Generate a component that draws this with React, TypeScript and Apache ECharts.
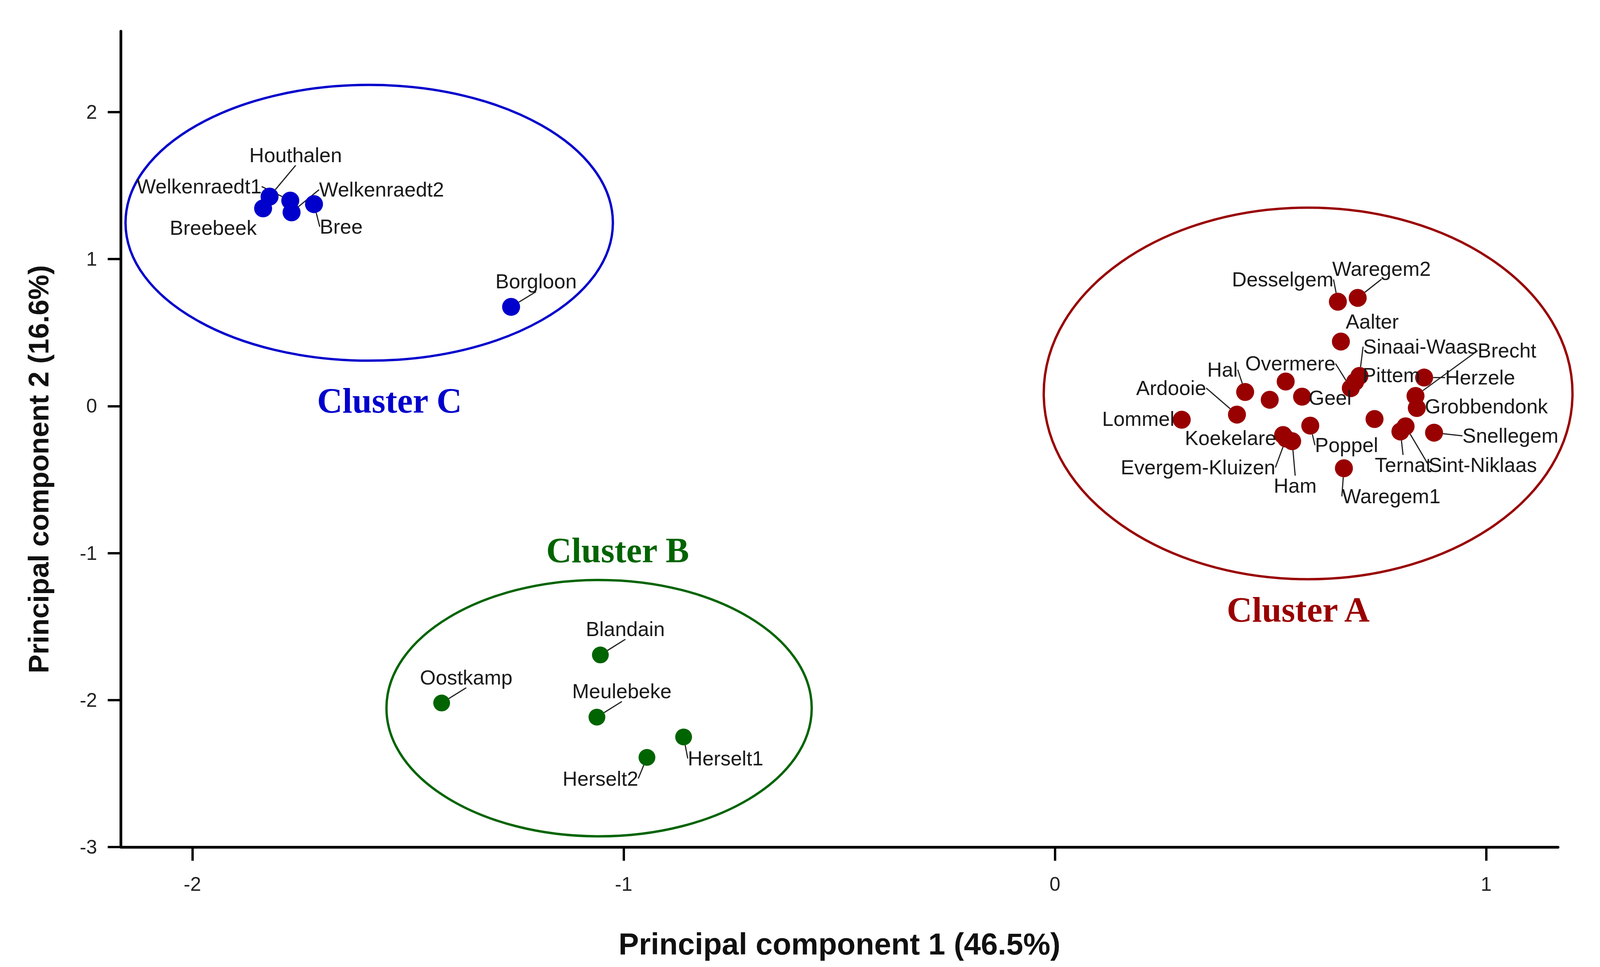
import React, { useEffect, useRef } from "react";
import * as echarts from "echarts";

// ---------- data ----------
const xTicks = [-2, -1, 0, 1];
const yTicks = [-3, -2, -1, 0, 1, 2];

const clusterANames = [
  "Desselgem", "Waregem2", "Aalter", "Sinaai-Waas", "Pittem", "Overmere",
  "Herzele", "Brecht", "Grobbendonk", "Hal", "Ardooie", "Lommel", "Geel",
  "Poppel", "Koekelare", "Evergem-Kluizen", "Ham", "Waregem1", "Ternat",
  "Sint-Niklaas", "Snellegem", "", "", "",
];
const clusterAX = [
  0.656, 0.702, 0.663, 0.706, 0.696, 0.686,
  0.856, 0.836, 0.839, 0.441, 0.422, 0.294, 0.573,
  0.592, 0.529, 0.536, 0.55, 0.67, 0.801,
  0.813, 0.879, 0.498, 0.535, 0.741,
];
const clusterAY = [
  0.71, 0.736, 0.439, 0.205, 0.165, 0.122,
  0.194, 0.069, -0.013, 0.096, -0.058, -0.093, 0.064,
  -0.133, -0.197, -0.221, -0.239, -0.423, -0.173,
  -0.138, -0.181, 0.043, 0.167, -0.088,
];

const clusterBNames = ["Blandain", "Oostkamp", "Meulebeke", "Herselt1", "Herselt2"];
const clusterBX = [-1.054, -1.422, -1.062, -0.861, -0.946];
const clusterBY = [-1.693, -2.02, -2.116, -2.251, -2.39];

const clusterCNames = ["Houthalen", "Welkenraedt1", "Breebeek", "Welkenraedt2", "Bree", "Borgloon"];
const clusterCX = [-1.821, -1.773, -1.836, -1.77, -1.718, -1.261];
const clusterCY = [1.425, 1.398, 1.345, 1.318, 1.374, 0.675];

// cluster ellipses (data units): centre, radii, and where the cluster title sits
const clusterTitles = ["Cluster A", "Cluster B", "Cluster C"];
const ellipseCX = [0.587, -1.057, -1.59];
const ellipseCY = [0.086, -2.055, 1.247];
const ellipseRX = [0.613, 0.493, 0.565];
const ellipseRY = [1.264, 0.872, 0.938];
const titleX = [0.564, -1.014, -1.543];
const titleY = [-1.385, -0.981, 0.037];

// ---------- layout (label placement, px from the point centre, at 4233x2475) ----------
const labelOffsets: Record<string, [number, number]> = {
  Desselgem: [-146, -57],
  Waregem2: [63, -74],
  Aalter: [83, -51],
  "Sinaai-Waas": [161, -75],
  Pittem: [96, -17],
  Overmere: [-160, -63],
  Herzele: [148, 0],
  Brecht: [242, -116],
  Grobbendonk: [184, -4],
  Hal: [-60, -57],
  Ardooie: [-174, -68],
  Lommel: [-115, -2],
  Geel: [74, 3],
  Poppel: [96, 50],
  Koekelare: [-139, 8],
  "Evergem-Kluizen": [-233, 74],
  Ham: [8, 114],
  Waregem1: [125, 72],
  Ternat: [7, 86],
  "Sint-Niklaas": [204, 99],
  Snellegem: [202, 8],
  Houthalen: [69, -106],
  Welkenraedt1: [-241, -36],
  Breebeek: [-132, 50],
  Welkenraedt2: [238, -58],
  Bree: [72, 58],
  Borgloon: [66, -65],
  Blandain: [66, -66],
  Oostkamp: [65, -65],
  Meulebeke: [66, -66],
  Herselt1: [111, 55],
  Herselt2: [-123, 54],
};
const leaderNames = new Set([
  "Desselgem", "Waregem2", "Sinaai-Waas", "Overmere", "Herzele", "Brecht",
  "Hal", "Ardooie", "Lommel", "Poppel", "Evergem-Kluizen", "Ham", "Waregem1",
  "Ternat", "Sint-Niklaas", "Snellegem", "Houthalen", "Welkenraedt1",
  "Welkenraedt2", "Bree", "Borgloon", "Blandain", "Oostkamp", "Meulebeke",
  "Herselt1", "Herselt2",
]);

const RED = "#990000";
const GREEN = "#006400";
const BLUE = "#0000CC";
const clusterColors = [RED, GREEN, BLUE];
const SANS = "'Liberation Sans', Arial, sans-serif";
const SERIF = "'Liberation Serif', 'Times New Roman', serif";

function buildScatter(
  name: string, names: string[], xs: number[], ys: number[],
  color: string, size: number, sx: number, sy: number
) {
  return {
    name,
    type: "scatter",
    z: 3,
    symbol: "circle",
    symbolSize: size,
    itemStyle: { color, opacity: 1 },
    data: names.map((n, i) => ({
      name: n,
      value: [xs[i], ys[i]],
      label: { show: n !== "" },
      labelLine: { show: leaderNames.has(n) },
    })),
    label: {
      show: true,
      formatter: "{b}",
      position: "inside",
      fontFamily: SANS,
      fontSize: 52,
      color: "#1a1a1a",
    },
    labelLine: {
      show: false,
      lineStyle: { color: "#222", width: 3 },
    },
    labelLayout: (p: any) => {
      const n = names[p.dataIndex];
      const off = labelOffsets[n];
      if (!off) return {};
      return {
        x: p.rect.x + p.rect.width / 2 + off[0] * sx,
        y: p.rect.y + p.rect.height / 2 + off[1] * sy,
        align: "center",
        verticalAlign: "middle",
      };
    },
  };
}

export default function App() {
  const ref = useRef<HTMLDivElement>(null);

  useEffect(() => {
    const el = ref.current;
    if (!el) return;
    const W = el.clientWidth || 4233;
    const H = el.clientHeight || 2475;
    const sx = W / 4233;
    const sy = H / 2475;
    const chart = echarts.init(el, undefined, { renderer: "svg" });

    const ellipseData = clusterTitles.map((t, i) => ({
      name: t,
      value: [ellipseCX[i], ellipseCY[i], ellipseRX[i] * 2, ellipseRY[i] * 2, titleX[i], titleY[i], i],
    }));

    const option: any = {
      animation: false,
      backgroundColor: "#ffffff",
      grid: { left: 320 * sx, right: 111 * sx, top: 80 * sy, bottom: 307 * sy, containLabel: false },
      xAxis: {
        type: "value",
        min: -2.1656,
        max: 1.1665,
        name: "Principal component 1 (46.5%)",
        nameLocation: "middle",
        nameGap: 209 * sy,
        nameTextStyle: { fontFamily: SANS, fontSize: 78, fontWeight: "bold", color: "#111" },
        axisLine: { show: true, onZero: false, lineStyle: { color: "#000", width: 7 } },
        axisTick: { show: true, length: 35 * sy, customValues: xTicks, lineStyle: { color: "#000", width: 6 } },
        axisLabel: { customValues: xTicks, margin: 70 * sy, fontFamily: SANS, fontSize: 50, color: "#222" },
        splitLine: { show: false },
      },
      yAxis: {
        type: "value",
        min: -3,
        max: 2.55,
        name: "Principal component 2 (16.6%)",
        nameLocation: "middle",
        nameGap: 180 * sx,
        nameTextStyle: {
          fontFamily: SANS, fontSize: 72, fontWeight: "bold", color: "#111",
          padding: [0, 154 * sy, 0, 0],
        },
        axisLine: { show: true, onZero: false, lineStyle: { color: "#000", width: 7 } },
        axisTick: { show: true, length: 35 * sx, customValues: yTicks, lineStyle: { color: "#000", width: 6 } },
        axisLabel: {
          customValues: yTicks, margin: 63 * sx, fontFamily: SANS, fontSize: 50, color: "#222",
          padding: [20 * sy, 0, 0, 0],
        },
        splitLine: { show: false },
      },
      series: [
        {
          name: "Clusters",
          type: "custom",
          z: 1,
          clip: false,
          silent: true,
          data: ellipseData,
          renderItem: (params: any, api: any) => {
            const c = api.coord([api.value(0), api.value(1)]);
            const s = api.size([api.value(2), api.value(3)], [api.value(0), api.value(1)]);
            const t = api.coord([api.value(4), api.value(5)]);
            const idx = api.value(6);
            const color = clusterColors[idx];
            return {
              type: "group",
              children: [
                {
                  type: "ellipse",
                  shape: { cx: c[0], cy: c[1], rx: s[0] / 2, ry: s[1] / 2 },
                  style: { fill: "none", stroke: color, lineWidth: 6 },
                },
                {
                  type: "text",
                  x: t[0],
                  y: t[1],
                  style: {
                    text: clusterTitles[idx],
                    fill: color,
                    fontFamily: SERIF,
                    fontSize: 90,
                    fontWeight: "bold",
                    align: "center",
                    verticalAlign: "middle",
                  },
                },
              ],
            };
          },
        },
        buildScatter("Cluster A", clusterANames, clusterAX, clusterAY, RED, 46, sx, sy),
        buildScatter("Cluster B", clusterBNames, clusterBX, clusterBY, GREEN, 43, sx, sy),
        buildScatter("Cluster C", clusterCNames, clusterCX, clusterCY, BLUE, 46, sx, sy),
      ],
    };

    chart.setOption(option);
    return () => {
      chart.dispose();
    };
  }, []);

  return (
    <div
      ref={ref}
      style={{ position: "fixed", left: 0, top: 0, width: "100vw", height: "100vh", background: "#fff" }}
    />
  );
}
